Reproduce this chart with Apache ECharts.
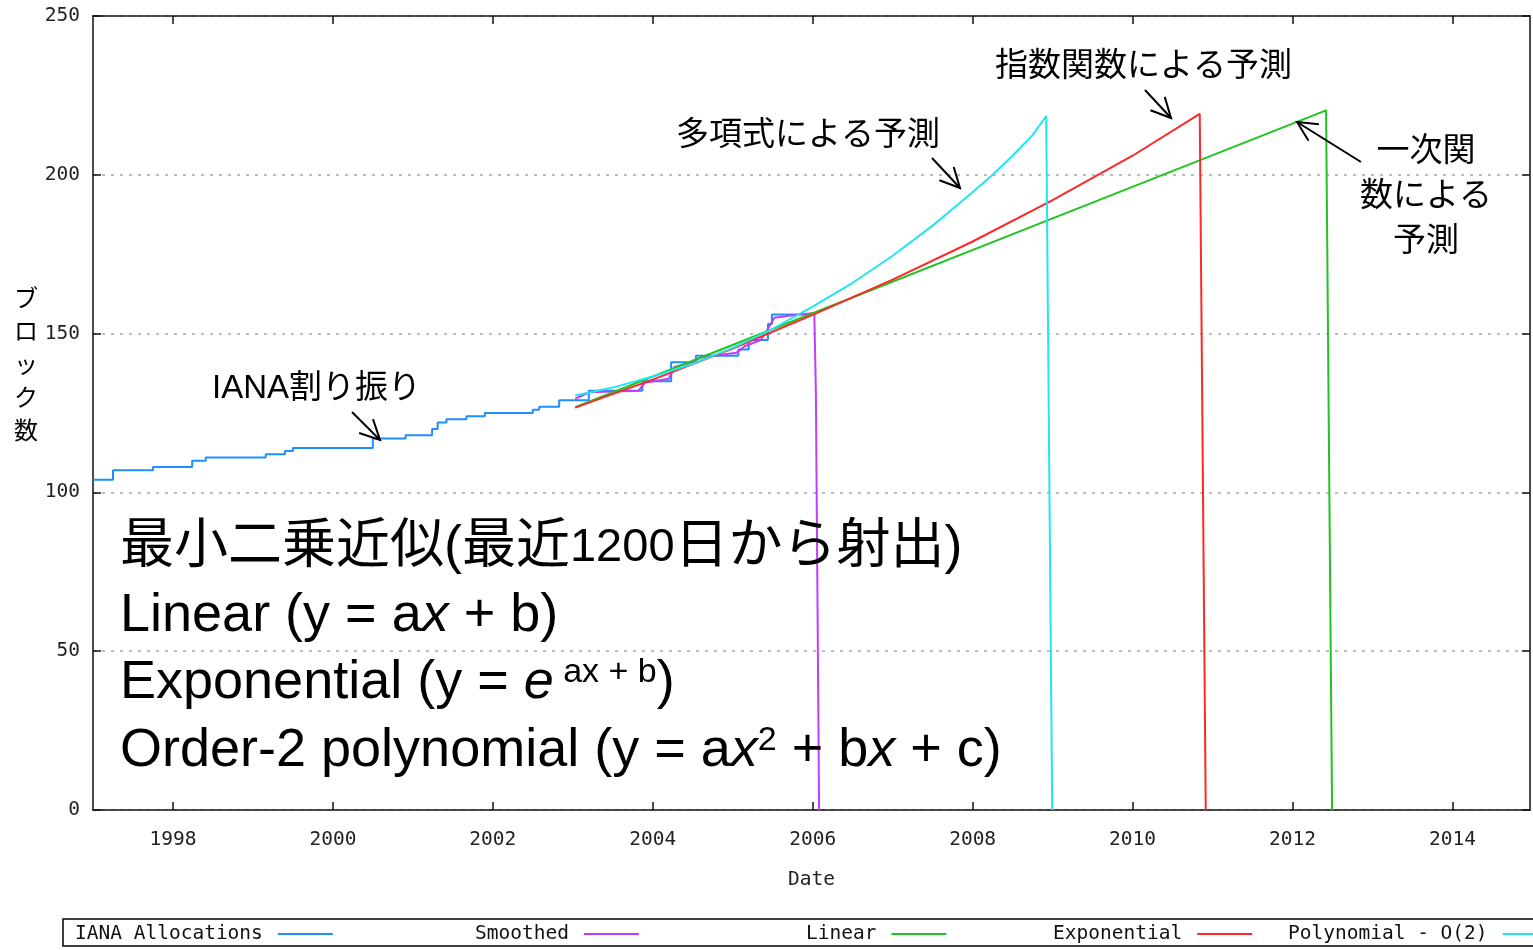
<!DOCTYPE html>
<html>
<head>
<meta charset="utf-8">
<title>IANA割り振り予測</title>
<style>
  *{margin:0;padding:0;}
  body{background:#fff;}
  #chart{width:1533px;height:950px;}
</style>
</head>
<body>
<div id="chart"></div>
<script src="https://cdn.jsdelivr.net/npm/echarts@6/dist/echarts.min.js"></script>
<script>
// 目盛り
var yearTicks = [1998, 2000, 2002, 2004, 2006, 2008, 2010, 2012, 2014];

// IANA割り振り (ステップ)
var ianaYears  = [1997.0, 1997.25, 1997.75, 1998.24, 1998.41, 1999.16, 1999.40, 1999.50, 2000.50, 2000.91,
                  2001.24, 2001.31, 2001.42, 2001.67, 2001.90, 2002.50, 2002.58, 2002.83, 2003.20, 2003.87,
                  2004.23, 2004.54, 2005.07, 2005.20, 2005.44, 2005.49, 2005.95];
var ianaBlocks = [104, 107, 108, 110, 111, 112, 113, 114, 117, 118,
                  120, 122, 123, 124, 125, 126, 127, 129, 132, 135,
                  141, 143, 145, 148, 153, 156, 156];

// Smoothed
var smoothYears  = [2003.03, 2003.12, 2003.20, 2003.50, 2003.82, 2003.90, 2004.20, 2004.27, 2004.50, 2004.60,
                    2005.05, 2005.15, 2005.35, 2005.44, 2005.52, 2005.75, 2006.02, 2006.04, 2006.08];
var smoothBlocks = [129.5, 130.5, 131.5, 131.8, 132, 134.5, 135.8, 139.5, 141, 142.5,
                    144, 146, 148, 151.5, 155, 155.8, 156.5, 131, 0];

// Linear
var linearYears  = [2003.03, 2006, 2009, 2012.42, 2012.495];
var linearBlocks = [126.8, 156.4, 186.3, 220.3, 0];

// Exponential
var expYears  = [2003.03, 2004, 2005, 2006, 2007, 2008, 2009, 2010, 2010.84, 2010.915];
var expBlocks = [126.7, 135.5, 145.3, 155.9, 167, 179, 192, 206, 219.2, 0];

// Polynomial - O(2)
var polyYears  = [2003.03, 2003.5, 2004, 2004.5, 2005, 2005.5, 2006, 2006.5, 2007, 2007.5, 2008, 2008.25, 2008.5, 2008.75, 2008.92, 2008.995];
var polyBlocks = [130.5, 133, 136.5, 140.5, 145.5, 151.5, 158.5, 166, 174.5, 184, 194.5, 200, 206, 212.5, 218.5, 0];

var seriesNames  = ['IANA Allocations', 'Smoothed', 'Linear', 'Exponential', 'Polynomial - O(2)'];
var seriesColors = ['#1e8fff', '#c03cff', '#1fc41f', '#ff2828', '#22e6ee'];

function zip(xs, ys) {
    var out = [];
    for (var i = 0; i < xs.length; i++) out.push([xs[i], ys[i]]);
    return out;
}

var mono = "'DejaVu Sans Mono', 'Liberation Mono', monospace";
var jp = "'Liberation Sans', 'Noto Sans CJK JP', sans-serif";

function arrow(x1, y1, x2, y2) {
    var a = Math.atan2(y1 - y2, x1 - x2);
    var len = 22, spread = 0.46;
    var p1 = [x2 + len * Math.cos(a + spread), y2 + len * Math.sin(a + spread)];
    var p2 = [x2 + len * Math.cos(a - spread), y2 + len * Math.sin(a - spread)];
    var st = {stroke: '#000', lineWidth: 2, fill: null};
    return [
        {type: 'line', shape: {x1: x1, y1: y1, x2: x2, y2: y2}, style: st, z: 100},
        {type: 'polyline', shape: {points: [p1, [x2, y2], p2]}, style: st, z: 100}
    ];
}

function lineSeries(i, data, step) {
    return {
        name: seriesNames[i],
        type: 'line',
        data: data,
        step: step || false,
        showSymbol: false,
        symbol: 'none',
        color: seriesColors[i],
        lineStyle: {color: seriesColors[i], width: 2},
        animation: false,
        z: 2 + i
    };
}

var axisLineStyle = {color: '#111', width: 1.5};

var legends = [];
var legendLeft = [75, 475, 806, 1053, 1288];
for (var k = 0; k < seriesNames.length; k++) {
    legends.push({
        data: [seriesNames[k]],
        left: legendLeft[k],
        top: 924,
        align: 'right',
        icon: 'rect',
        itemWidth: 55,
        itemHeight: 2,
        selectedMode: false,
        padding: 0,
        textStyle: {fontFamily: mono, fontSize: 19.5, color: '#111', padding: [0, 10, 0, 0]}
    });
}

var gfx = [
    {type: 'text', style: {text: 'ブ\nロ\nッ\nク\n数', x: 26, y: 366, align: 'center', verticalAlign: 'middle',
        fontFamily: jp, fontSize: 24, lineHeight: 33, fill: '#000'}},
    {type: 'text', style: {text: 'IANA割り振り', x: 212, y: 389, verticalAlign: 'middle', fontFamily: jp, fontSize: 33, fill: '#000'}, z: 100},
    {type: 'text', style: {text: '多項式による予測', x: 676, y: 136, verticalAlign: 'middle', fontFamily: jp, fontSize: 33, fill: '#000'}, z: 100},
    {type: 'text', style: {text: '指数関数による予測', x: 995, y: 67, verticalAlign: 'middle', fontFamily: jp, fontSize: 33, fill: '#000'}, z: 100},
    {type: 'text', style: {text: '一次関\n数による\n予測', x: 1426, y: 197, align: 'center', verticalAlign: 'middle',
        fontFamily: jp, fontSize: 33, lineHeight: 45, fill: '#000'}, z: 100},
    {type: 'rect', shape: {x: 63, y: 919, width: 1500, height: 27}, style: {stroke: '#000', lineWidth: 1.5, fill: null}, z: 100}
];

var big = {fontFamily: jp, fontSize: 54, fill: '#000'};
var rich = {
    n: {fontFamily: jp, fontSize: 54, color: '#000'},
    d: {fontFamily: jp, fontSize: 47, color: '#000'},
    i: {fontFamily: jp, fontSize: 54, fontStyle: 'italic', color: '#000'},
    s: {fontFamily: jp, fontSize: 34, lineHeight: 20, verticalAlign: 'top', color: '#000'}
};
var bigLines = [
    ['{n|最小二乗近似(最近}{d|1200}{n|日から射出)}', 548],
    ['{n|Linear (y = a}{i|x}{n| + b)}', 616],
    ['{n|Exponential (y = }{i|e}{s| ax + b}{n|)}', 683],
    ['{n|Order-2 polynomial (y = a}{i|x}{s|2}{n| + b}{i|x}{n| + c)}', 751]
];
bigLines.forEach(function (l) {
    gfx.push({type: 'text', z: 100, style: {text: l[0], x: 120, y: l[1], verticalAlign: 'middle', rich: rich,
        fontFamily: big.fontFamily, fontSize: big.fontSize, fill: big.fill}});
});

gfx = gfx.concat(arrow(352, 412, 380, 440));
gfx = gfx.concat(arrow(932, 158, 960, 188));
gfx = gfx.concat(arrow(1145, 90, 1171, 118));
gfx = gfx.concat(arrow(1361, 162, 1297, 122));

var chart = echarts.init(document.getElementById('chart'));
var option = {
    backgroundColor: '#fff',
    animation: false,
    grid: {left: 93, top: 16, width: 1437, height: 794},
    legend: legends,
    xAxis: [
        {
            type: 'value', min: 1997, max: 2014.97, position: 'bottom',
            axisLine: {onZero: false, lineStyle: axisLineStyle},
            axisTick: {inside: true, length: 8, customValues: yearTicks, lineStyle: axisLineStyle},
            axisLabel: {customValues: yearTicks, margin: 20, fontFamily: mono, fontSize: 19.5, color: '#222',
                formatter: function (v) { return String(v); }},
            splitLine: {show: false},
            name: 'Date', nameLocation: 'middle', nameGap: 60,
            nameTextStyle: {fontFamily: mono, fontSize: 19.5, color: '#222'}
        },
        {
            type: 'value', min: 1997, max: 2014.97, position: 'top',
            axisLine: {onZero: false, lineStyle: axisLineStyle},
            axisTick: {inside: true, length: 8, customValues: yearTicks, lineStyle: axisLineStyle},
            axisLabel: {show: false},
            splitLine: {show: false}
        }
    ],
    yAxis: [
        {
            type: 'value', min: 0, max: 250, interval: 50, position: 'left',
            axisLine: {show: true, onZero: false, lineStyle: axisLineStyle},
            axisTick: {show: true, inside: true, length: 8, lineStyle: axisLineStyle},
            axisLabel: {margin: 13, fontFamily: mono, fontSize: 19.5, color: '#222'},
            splitLine: {show: true, lineStyle: {color: '#a8a8a8', width: 1.5, type: [3, 6]}}
        },
        {
            type: 'value', min: 0, max: 250, interval: 50, position: 'right',
            axisLine: {show: true, onZero: false, lineStyle: axisLineStyle},
            axisTick: {show: true, inside: true, length: 8, lineStyle: axisLineStyle},
            axisLabel: {show: false},
            splitLine: {show: false}
        }
    ],
    series: [
        lineSeries(0, zip(ianaYears, ianaBlocks), 'end'),
        lineSeries(1, zip(smoothYears, smoothBlocks)),
        lineSeries(2, zip(linearYears, linearBlocks)),
        lineSeries(3, zip(expYears, expBlocks)),
        lineSeries(4, zip(polyYears, polyBlocks))
    ],
    graphic: gfx
};
chart.setOption(option);
</script>
</body>
</html>
